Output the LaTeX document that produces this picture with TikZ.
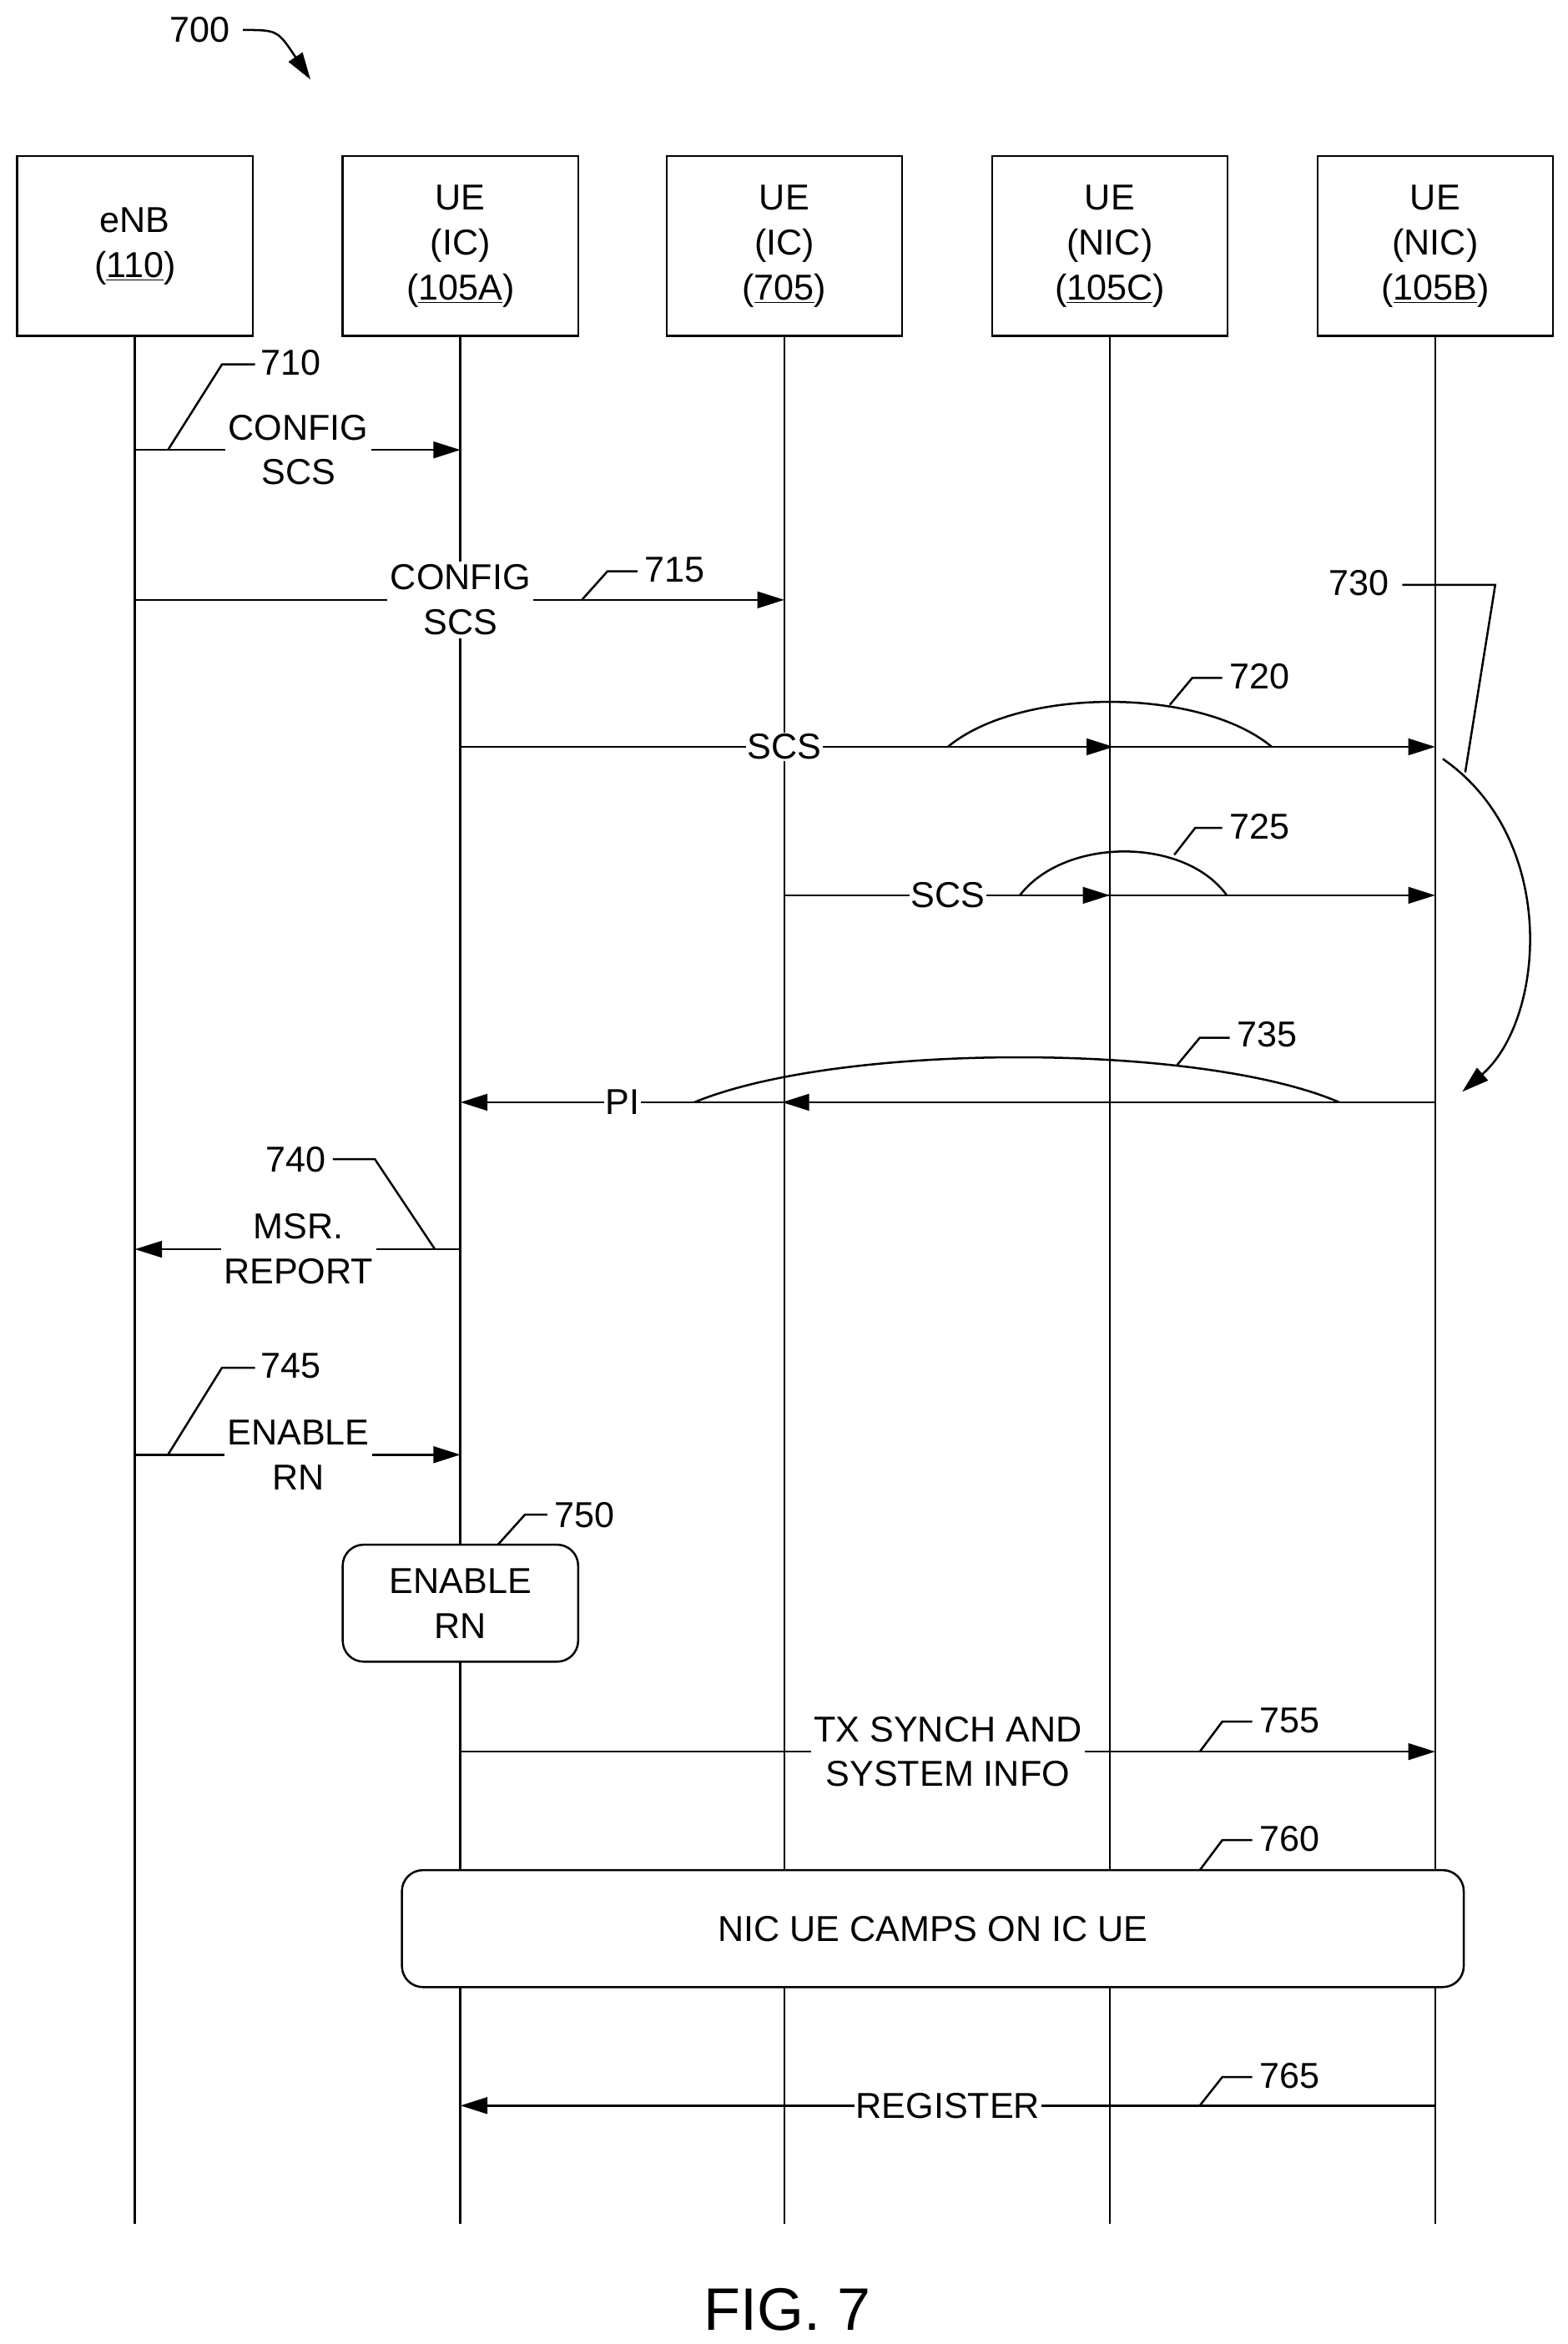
\documentclass[tikz,border=0pt]{standalone}
\usepackage{fontspec}
\setmainfont{Liberation Sans}
\usetikzlibrary{arrows.meta}
\begin{document}
\begin{tikzpicture}[x=1pt,y=-1pt,line width=1.4pt,
  every node/.style={font=\fontsize{24}{30}\selectfont},
  hdr/.style={draw,minimum width=157pt,minimum height=120pt,align=center,inner sep=0pt},
  lbl/.style={fill=white,align=center,inner sep=2pt},
  num/.style={inner sep=1pt},
  msg/.style={-{Triangle[length=18pt,width=11pt]}},
  mid/.style={decoration={markings,mark=at position #1 with {\arrow{Triangle[length=18pt,width=11pt]}}},postaction=decorate},
  rbox/.style={draw,rounded corners=14pt,fill=white,align=center}]
\usetikzlibrary{decorations.markings}
\useasboundingbox (0,0) rectangle (1045,1563);
\node (n700) at (133,20) {700};
\coordinate (a700) at (207,53);
\draw[msg] (n700.east) ++(5,0) .. controls (185,20) .. (a700);
\foreach \n/\x/\t in {enb/90/{eNB\\(\underline{110})},a/307/{UE\\(IC)\\(\underline{105A})},b/523/{UE\\(IC)\\(\underline{705})},c/740/{UE\\(NIC)\\(\underline{105C})},d/957/{UE\\(NIC)\\(\underline{105B})}}{
  \node[hdr] (\n) at (\x,164) {\t};
  \coordinate (\n e) at (\x,1483);
  \draw (\n.south) -- (\n e);
}
% 710
\coordinate (s710) at (90,300); \coordinate (t710) at (307,300);
\draw[msg] (s710) -- (t710);
\node[lbl] (l710) at (199,300) {CONFIG\\SCS};
\draw (112,300) -- (148,243) -- (170,243); \node[num,anchor=west] (n710) at (172,242) {710};
% 715
\coordinate (s715) at (90,400); \coordinate (t715) at (523,400);
\draw[msg] (s715) -- (t715);
\node[lbl] (l715) at (307,400) {CONFIG\\SCS};
\draw (388,400) -- (405,381) -- (425,381); \node[num,anchor=west] (n715) at (428,380) {715};
% 720
\coordinate (s720) at (307,498); \coordinate (t720) at (957,498);
\draw[msg,mid=0.67] (s720) -- (t720);
\node[lbl,inner sep=1pt] (l720) at (523,498) {SCS};
\draw (632,498) .. controls (680,458) and (800,458) .. (848,498);
\draw (780,470) -- (795,452) -- (815,452); \node[num,anchor=west] (n720) at (818,451) {720};
% 725
\coordinate (s725) at (523,597); \coordinate (t725) at (957,597);
\draw[msg,mid=0.5] (s725) -- (t725);
\node[lbl,inner sep=1pt] (l725) at (632,597) {SCS};
\draw (680,597) .. controls (710,558) and (790,558) .. (818,597);
\draw (783,570) -- (797,552) -- (815,552); \node[num,anchor=west] (n725) at (818,551) {725};
% 730
\node[num] (n730) at (906,389) {730};
\draw (935,390) -- (997,390) -- (977,515);
\coordinate (c730a) at (962,506); \coordinate (c730b) at (975,728);
\draw[msg] (c730a) .. controls (1040,560) and (1030,680) .. (c730b);
% 735
\coordinate (s735) at (957,735); \coordinate (t735) at (307,735);
\draw[msg,mid=0.67] (s735) -- (t735);
\node[lbl,inner sep=1pt] (l735) at (415,735) {PI};
\draw (463,735) .. controls (560,695) and (800,695) .. (893,735);
\draw (785,710) -- (800,692) -- (820,692); \node[num,anchor=west] (n735) at (823,690) {735};
% 740
\coordinate (s740) at (307,833); \coordinate (t740) at (90,833);
\draw[msg] (s740) -- (t740);
\node[lbl] (l740) at (199,833) {MSR.\\REPORT};
\node[num] (n740) at (197,773) {740};
\draw (222,773) -- (250,773) -- (290,833);
% 745
\coordinate (s745) at (90,970); \coordinate (t745) at (307,970);
\draw[msg] (s745) -- (t745);
\node[lbl] (l745) at (199,970) {ENABLE\\RN};
\draw (112,970) -- (148,912) -- (170,912); \node[num,anchor=west] (n745) at (172,911) {745};
% 750
\node[rbox,minimum width=157pt,minimum height=78pt] (b750) at (307,1069) {ENABLE\\RN};
\draw (332,1030) -- (350,1010) -- (365,1010); \node[num,anchor=west] (n750) at (368,1010) {750};
% 755
\coordinate (s755) at (307,1168); \coordinate (t755) at (957,1168);
\draw[msg] (s755) -- (t755);
\node[lbl] (l755) at (632,1168) {TX SYNCH AND\\SYSTEM INFO};
\draw (800,1168) -- (815,1148) -- (835,1148); \node[num,anchor=west] (n755) at (838,1147) {755};
% 760
\node[rbox,minimum width=708pt,minimum height=78pt] (b760) at (622,1286) {NIC UE CAMPS ON IC UE};
\draw (800,1247) -- (815,1227) -- (835,1227); \node[num,anchor=west] (n760) at (838,1226) {760};
% 765
\coordinate (s765) at (957,1404); \coordinate (t765) at (307,1404);
\draw[msg] (s765) -- (t765);
\node[lbl,inner sep=1pt] (l765) at (632,1404) {REGISTER};
\draw (800,1404) -- (815,1385) -- (835,1385); \node[num,anchor=west] (n765) at (838,1384) {765};
\node[font=\fontsize{40}{48}\selectfont] (fig) at (525,1540) {FIG. 7};
\end{tikzpicture}
\end{document}
